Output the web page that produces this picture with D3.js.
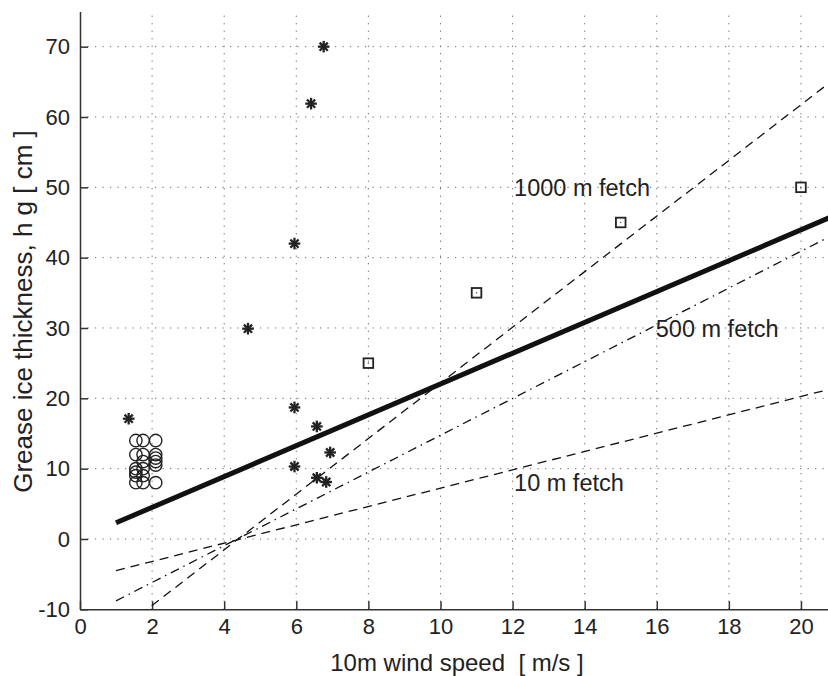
<!DOCTYPE html>
<html>
<head>
<meta charset="utf-8">
<script src="https://cdn.jsdelivr.net/npm/d3@7"></script>
<style>
  body { margin: 0; background: #fff; }
  text { font-family: "Liberation Sans", Arial, sans-serif; fill: #222; }
</style>
</head>
<body>
<script>
// observations: circles (low wind), asterisks, squares
const circleX = [1.55, 1.55, 1.55, 1.55, 1.55, 1.55, 1.75, 1.75, 1.75, 1.75, 1.75, 1.75, 2.1, 2.1, 2.1, 2.1, 2.1, 2.1];
const circleY = [14, 12, 10, 9.5, 9, 8, 14, 12, 11, 10, 9, 8, 14, 12, 11.5, 11, 10.5, 8];

const starX = [1.35, 4.66, 5.95, 6.41, 6.76, 5.95, 6.57, 6.94, 5.95, 6.57, 6.83];
const starY = [17.1, 29.9, 42, 61.9, 70, 18.7, 16, 12.3, 10.3, 8.7, 8.1];

const squareX = [8, 11, 15, 20];
const squareY = [25, 35, 45, 50];

// model lines, endpoints
const fitLine = [[1, 2.3], [20.8, 45.7]];
const fetch1000 = [[1, -13.4], [20.8, 64.9]];
const fetch500 = [[1, -8.8], [20.8, 43.0]];
const fetch10 = [[1, -4.5], [20.8, 21.3]];

const fetchLabels = ["1000 m fetch", "500 m fetch", "10 m fetch"];
const labelPos = [[12.07, 48.7], [16.0, 28.7], [12.07, 6.8]];

const xTicks = [0, 2, 4, 6, 8, 10, 12, 14, 16, 18, 20];
const yTicks = [-10, 0, 10, 20, 30, 40, 50, 60, 70];

const width = 828, height = 676;
const margin = {top: 11.5, right: 0, bottom: 66.7, left: 80};

const svg = d3.select("body").append("svg")
    .attr("width", width)
    .attr("height", height);

const x = d3.scaleLinear()
    .domain([0, 20.75])
    .range([margin.left, width - margin.right]);

const y = d3.scaleLinear()
    .domain([-10, 75])
    .range([height - margin.bottom, margin.top]);

svg.append("defs").append("clipPath")
    .attr("id", "clip")
  .append("rect")
    .attr("x", x(0))
    .attr("y", y(75))
    .attr("width", x(20.75) - x(0))
    .attr("height", y(-10) - y(75));

// grid
const grid = svg.append("g")
    .attr("stroke", "#666")
    .attr("stroke-width", 1)
    .attr("stroke-dasharray", "1.2,6.3");

grid.selectAll(".gx")
    .data(xTicks.filter(d => d > 0))
    .join("line")
    .attr("x1", d => x(d)).attr("x2", d => x(d))
    .attr("y1", y(-10)).attr("y2", y(75));

grid.selectAll(".gy")
    .data(yTicks.filter(d => d > -10))
    .join("line")
    .attr("y1", d => y(d)).attr("y2", d => y(d))
    .attr("x1", x(0)).attr("x2", x(20.75));

// axes
const xAxis = g => g
    .attr("transform", `translate(0,${y(-10)})`)
    .call(d3.axisBottom(x).tickValues(xTicks).tickFormat(d => String(d))
        .tickSizeInner(-8).tickSizeOuter(0).tickPadding(9))
    .call(g => g.selectAll(".tick text").attr("font-size", 22))
    .call(g => g.selectAll("path, line").attr("stroke", "#333").attr("stroke-width", 1.5));

const yAxis = g => g
    .attr("transform", `translate(${x(0)},0)`)
    .call(d3.axisLeft(y).tickValues(yTicks).tickFormat(d => String(d))
        .tickSizeInner(-8).tickSizeOuter(0).tickPadding(10))
    .call(g => g.selectAll(".tick text").attr("font-size", 22))
    .call(g => g.selectAll("path, line").attr("stroke", "#333").attr("stroke-width", 1.5));

svg.append("g").call(xAxis);
svg.append("g").call(yAxis);

// lines
const line = d3.line().x(d => x(d[0])).y(d => y(d[1]));
const lines = svg.append("g").attr("clip-path", "url(#clip)").attr("fill", "none").attr("stroke", "#111");

lines.append("path").datum(fetch1000).attr("d", line)
    .attr("stroke-width", 1.3).attr("stroke-dasharray", "9,6");
lines.append("path").datum(fetch500).attr("d", line)
    .attr("stroke-width", 1.3).attr("stroke-dasharray", "9,5,1.5,5");
lines.append("path").datum(fetch10).attr("d", line)
    .attr("stroke-width", 1.3).attr("stroke-dasharray", "9,6");
lines.append("path").datum(fitLine).attr("d", line)
    .attr("stroke-width", 5);

// circles
svg.append("g")
    .attr("fill", "none")
    .attr("stroke", "#222")
    .attr("stroke-width", 1.4)
  .selectAll("circle")
  .data(circleX.map((d, i) => [d, circleY[i]]))
  .join("circle")
    .attr("cx", d => x(d[0]))
    .attr("cy", d => y(d[1]))
    .attr("r", 6.2);

// asterisks
const star = svg.append("g")
    .attr("stroke", "#222")
    .attr("stroke-width", 2.3)
  .selectAll("g")
  .data(starX.map((d, i) => [d, starY[i]]))
  .join("g")
    .attr("transform", d => `translate(${x(d[0])},${y(d[1])})`);
[0, 45, 90, 135].forEach(a => {
  star.append("line")
      .attr("x1", -5.8).attr("x2", 5.8)
      .attr("transform", `rotate(${a})`);
});

// squares
const sq = svg.append("g")
  .selectAll("g")
  .data(squareX.map((d, i) => [d, squareY[i]]))
  .join("g")
    .attr("transform", d => `translate(${x(d[0])},${y(d[1])})`);
sq.append("rect")
    .attr("x", -4.8).attr("y", -4.8)
    .attr("width", 9.6).attr("height", 9.6)
    .attr("fill", "none").attr("stroke", "#222").attr("stroke-width", 1.8);
sq.append("rect")
    .attr("x", -0.6).attr("y", -0.6).attr("width", 1.2).attr("height", 1.2)
    .attr("fill", "#444");

// fetch labels
svg.append("g")
  .selectAll("text")
  .data(fetchLabels)
  .join("text")
    .attr("x", (d, i) => x(labelPos[i][0]) - 1)
    .attr("y", (d, i) => y(labelPos[i][1]))
    .attr("font-size", 23.5)
    .text(d => d);

// axis titles
svg.append("text")
    .attr("x", 457)
    .attr("y", 671)
    .attr("text-anchor", "middle")
    .attr("font-size", 24)
    .style("white-space", "pre")
    .text("10m wind speed  [ m/s ]");

svg.append("text")
    .attr("transform", "translate(32,311.5) rotate(-90)")
    .attr("text-anchor", "middle")
    .attr("font-size", 26)
    .style("white-space", "pre")
    .text("Grease ice thickness, h g [ cm ]");
</script>
</body>
</html>
